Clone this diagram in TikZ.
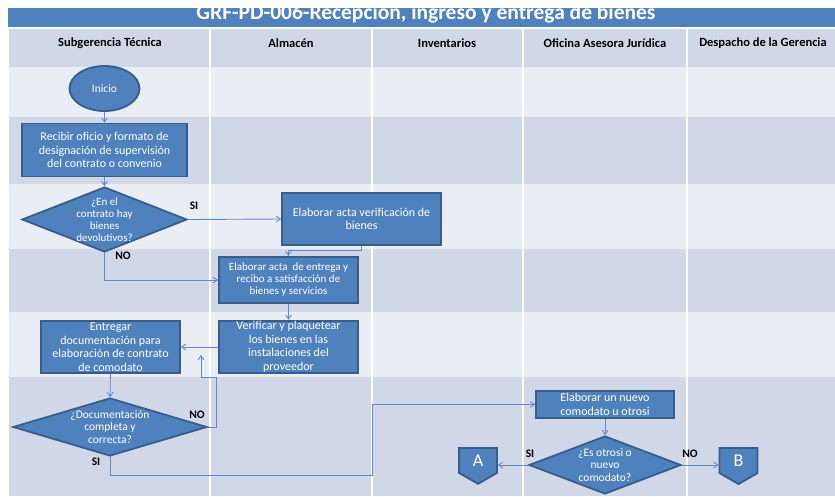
\documentclass[tikz,border=0pt]{standalone}
\usepackage{fontspec}
\setmainfont{Carlito}
\usetikzlibrary{shapes.geometric, shapes.symbols, arrows.meta, positioning, backgrounds}
\definecolor{titleblue}{HTML}{4F81BD}
\definecolor{boxblue}{HTML}{4F81BD}
\definecolor{boxedge}{HTML}{385D8A}
\definecolor{lineblue}{HTML}{5B8CC8}
\definecolor{bandlight}{HTML}{E9EDF4}
\definecolor{banddark}{HTML}{D0D8E8}
\tikzset{
  proc/.style={rectangle, draw=boxedge, line width=1.8pt, fill=boxblue, text=white,
    font=\fontsize{12}{13.5}\selectfont, align=center, inner sep=1pt},
  dec/.style={diamond, draw=boxedge, line width=1.8pt, fill=boxblue, inner sep=0pt},
  dectext/.style={text=white, font=\fontsize{11}{12}\selectfont, align=center, inner sep=0pt},
  term/.style={ellipse, draw=boxedge, line width=1.8pt, fill=boxblue, text=white,
    font=\fontsize{11.5}{13}\selectfont, minimum width=70pt, minimum height=45pt},
  offp/.style={signal, signal to=south, signal pointer angle=120, draw=boxedge, line width=1.8pt,
    fill=boxblue, text=white, font=\fontsize{18}{18}\selectfont, minimum width=38pt, minimum height=28pt,
    inner sep=0pt, anchor=north},
  ar/.style={-{Straight Barb[angle=70:5pt]}, draw=lineblue, line width=0.9pt},
  lb/.style={font=\bfseries\fontsize{11.5}{12}\selectfont, text=black, inner sep=0pt},
  lanehd/.style={font=\bfseries\fontsize{12.5}{13}\selectfont, text=black, inner sep=0pt},
}

\begin{document}
\begin{tikzpicture}[x=1pt, y=-1pt]
\useasboundingbox (0,0) rectangle (835,496);

%% ===== NODES =====
\node[term] (ini) at (104.5,88.5) {Inicio};
\node[proc, minimum width=165pt, minimum height=53pt] (recibir) at (104.5,150)
  {Recibir oficio y formato de\\designación de supervisión\\del contrato o convenio};
\node[dec, minimum width=165pt, minimum height=65pt,
  label={[dectext]center:{¿En el\\contrato hay\\bienes\\devolutivos?}}] (hay) at (104.5,219.5) {};

% -- Almacen lane --
\node[proc, minimum width=159pt, minimum height=52pt] (actaver) at (361.5,219)
  {Elaborar acta verificación de\\bienes};
\node[proc, font=\fontsize{11}{12}\selectfont, minimum width=139pt, minimum height=46pt] (actaent) at (288.5,280)
  {Elaborar acta~ de entrega y\\recibo a satisfacción de\\bienes y servicios};
\node[proc, minimum width=139pt, minimum height=52pt] (plaq) at (288.5,347)
  {Verificar y plaquetear\\los bienes en las\\instalaciones del\\proveedor};

% -- back to Subgerencia --
\node[proc, minimum width=139pt, minimum height=52pt] (entregar) at (110.5,347)
  {Entregar\\documentación para\\elaboración de contrato\\de comodato};
\node[dec, minimum width=194pt, minimum height=58pt,
  label={[dectext, font=\fontsize{11.5}{12.5}\selectfont]center:{¿Documentación\\completa y\\correcta?}}] (docok) at (110,427) {};
\coordinate (noret) at (201,355);

% -- Juridica lane --
\node[proc, minimum width=138pt, minimum height=27pt] (nuevo) at (605,404.5)
  {Elaborar un nuevo\\comodato u otrosi};
\node[dec, minimum width=152pt, minimum height=58pt,
  label={[dectext, font=\fontsize{11.5}{12.5}\selectfont]center:{¿Es otrosi o\\nuevo\\comodato?}}] (otrosi) at (605,465) {};
\node[offp] (conA) at (478,447) {A};
\node[offp] (conB) at (738.5,447) {B};

\begin{scope}[on background layer]
  \fill[white] (0,0) rectangle (835,496);
  \fill[titleblue] (8,8) rectangle (835,27);
  \begin{scope}
    \clip (8,8) rectangle (835,27);
    \node[text=white, font=\bfseries\fontsize{21.5}{21.5}\selectfont, anchor=base] (titulo) at (426,19.5)
      {GRF-PD-006-Recepción, ingreso y entrega de bienes};
  \end{scope}
  \fill[banddark]  (9,29)  rectangle (835,67);
  \fill[bandlight] (9,67)  rectangle (835,117);
  \fill[banddark]  (9,117) rectangle (835,184);
  \fill[bandlight] (9,184) rectangle (835,249);
  \fill[banddark]  (9,249) rectangle (835,312);
  \fill[bandlight] (9,312) rectangle (835,377);
  \fill[banddark]  (9,377) rectangle (835,496);
  \foreach \lx in {210,372,523,687}
    \draw[white, line width=1.5pt] (\lx,29) -- (\lx,496);
  \node[lanehd] (hd1) at (110,43) {Subgerencia Técnica};
  \node[lanehd] (hd2) at (291,43) {Almacén};
  \node[lanehd] (hd3) at (447,43) {Inventarios};
  \node[lanehd] (hd4) at (605,43) {Oficina Asesora Jurídica};
  \node[lanehd] (hd5) at (763,43) {Despacho de la Gerencia};
\end{scope}

%% ===== CONNECTORS =====
\draw[ar] (ini) -- (recibir);
\draw[ar] (recibir) -- (hay);
\draw[ar] (hay.east) -- (actaver.west);
\node[lb] at (194,206) {SI};
\draw[ar] (hay.south) |- (actaent.west);
\node[lb] at (123,256) {NO};
\draw[ar] (actaver.south) -- ++(0,5) -| (actaent.north);
\draw[ar] (actaent) -- (plaq);
\draw[ar] (plaq.west) -- (entregar.east);
\draw[ar] (entregar) -- (docok);
\draw[ar] (docok.east) -| (216,377) -| (noret);
\node[lb] at (197,415) {NO};
\draw[ar] (docok.south) |- (372,475) |- (nuevo.west);
\node[lb] at (96,462) {SI};
\draw[ar] (nuevo) -- (otrosi);
\draw[ar] (otrosi.west) -- (otrosi.west -| conA.east);
\node[lb] at (530,454) {SI};
\draw[ar] (otrosi.east) -- (otrosi.east -| conB.west);
\node[lb] at (690,454) {NO};
\end{tikzpicture}
\end{document}
